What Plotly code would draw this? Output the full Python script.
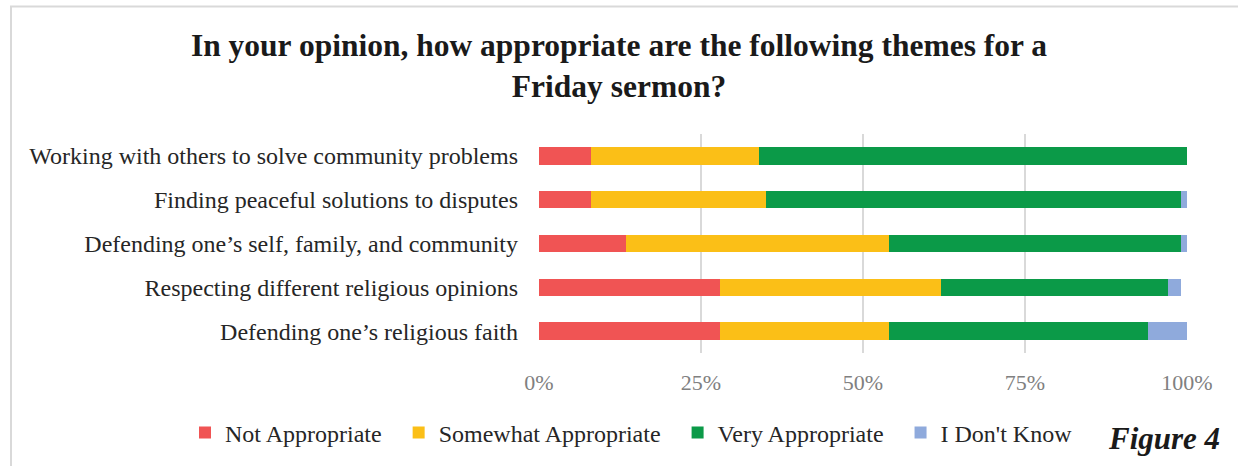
import plotly.graph_objects as go

categories = [
    "Working with others to solve community problems",
    "Finding peaceful solutions to disputes",
    "Defending one’s self, family, and community",
    "Respecting different religious opinions",
    "Defending one’s religious faith",
]
not_appropriate = [8, 8, 13.5, 28, 28]
somewhat_appropriate = [26, 27, 40.5, 34, 26]
very_appropriate = [66, 64, 45, 35, 40]
dont_know = [0, 1, 1, 2, 6]

series_names = ["Not Appropriate", "Somewhat Appropriate", "Very Appropriate", "I Don't Know"]
series_values = [not_appropriate, somewhat_appropriate, very_appropriate, dont_know]
series_colors = ["#F05454", "#FBBF17", "#0B9A48", "#8FAADC"]

x_ticks = [0, 25, 50, 75, 100]

FONT = "Liberation Serif, Times New Roman, serif"
NB = "\u00a0\u00a0"

fig = go.Figure()
for name, vals, col in zip(series_names, series_values, series_colors):
    fig.add_trace(go.Bar(
        y=categories, x=vals, name=name + NB, orientation="h",
        marker=dict(color=col, line=dict(width=0)),
    ))

W, H = 1238, 466
L, R, T, B = 539, 1187, 134, 354
pw, ph = R - L, B - T

def px(x):
    return (x - L) / pw

def py(y):
    return (B - y) / ph

fig.update_layout(
    width=W, height=H,
    margin=dict(l=L, r=W - R, t=T, b=H - B, pad=0),
    barmode="stack",
    bargap=0.6,
    plot_bgcolor="white",
    paper_bgcolor="white",
    font=dict(family=FONT, color="#262626"),
    title=dict(
        text="<b>In your opinion, how appropriate are the following themes for a<br>Friday sermon?</b>",
        x=0.5, xref="container", xanchor="center",
        y=1 - 56 / H, yref="container", yanchor="top",
        font=dict(size=31.5, color="#1a1a1a", family=FONT),
    ),
    xaxis=dict(
        range=[0, 100], tickvals=x_ticks, ticktext=[f"{v}%" for v in x_ticks],
        showgrid=True, gridcolor="#D9D9D9", gridwidth=1.5,
        zeroline=False, showline=False, ticks="",
        tickfont=dict(size=22, color="#808080"),
        ticklabelstandoff=14,
    ),
    yaxis=dict(
        categoryorder="array", categoryarray=categories[::-1],
        showgrid=False, showline=False, ticks="",
        tickfont=dict(size=24, color="#262626"),
        ticklabelstandoff=20,
    ),
    legend=dict(
        orientation="h", x=px(185), xanchor="left", y=py(433), yanchor="middle",
        font=dict(size=24, color="#262626"),
        traceorder="normal",
    ),
    showlegend=True,
)

fig.add_shape(type="rect", xref="paper", yref="paper",
              x0=px(11), x1=px(1250), y0=py(6), y1=py(480),
              line=dict(color="#D9D9D9", width=2), fillcolor="rgba(0,0,0,0)", layer="below")

fig.add_annotation(
    text="<b><i>Figure 4</i></b>", xref="paper", yref="paper",
    x=px(1222), y=py(440), xanchor="right", yanchor="middle",
    showarrow=False, font=dict(size=31, color="#1a1a1a", family=FONT),
)

fig.write_html(
    "out.html",
    config={"displayModeBar": False},
    post_script="document.body.style.margin='0';document.body.style.overflow='hidden';",
)
